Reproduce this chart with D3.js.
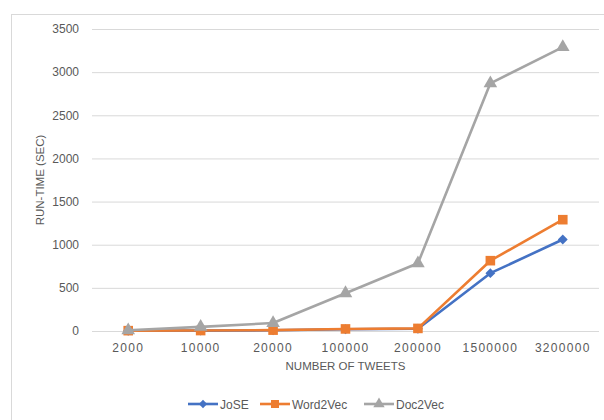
<!DOCTYPE html>
<html>
<head>
<meta charset="utf-8">
<script src="https://cdn.jsdelivr.net/npm/d3@7"></script>
<style>
  html, body { margin: 0; padding: 0; background: #fff; }
  svg { display: block; font-family: "Liberation Sans", Arial, sans-serif; }
</style>
</head>
<body>
<svg id="chart" width="604" height="420"></svg>
<script>
// Run-time by number of tweets
const categories = ["2000", "10000", "20000", "100000", "200000", "1500000", "3200000"];
const joseValues = [3, 4, 8, 20, 26, 670, 1060];
const word2vecValues = [4, 5, 10, 24, 30, 815, 1290];
const doc2vecValues = [8, 48, 92, 438, 785, 2870, 3290];
const yTicks = [0, 500, 1000, 1500, 2000, 2500, 3000, 3500];

const seriesNames = ["JoSE", "Word2Vec", "Doc2Vec"];
const seriesColors = ["#4472C4", "#ED7D31", "#A5A5A5"];
const seriesShapes = [d3.symbolDiamond2, d3.symbolSquare, d3.symbolTriangle];
const seriesSymbolSize = [62, 92, 80];

const series = [joseValues, word2vecValues, doc2vecValues].map((vals, i) => ({
  name: seriesNames[i],
  color: seriesColors[i],
  shape: seriesShapes[i],
  size: seriesSymbolSize[i],
  values: vals.map((v, j) => ({ cat: categories[j], v }))
}));

const svg = d3.select("#chart");
const textColor = "#595959";
const gridColor = "#d9d9d9";

// chart frame
svg.append("rect")
  .attr("x", 11.5).attr("y", 14.5)
  .attr("width", 700).attr("height", 500)
  .attr("fill", "#fff").attr("stroke", gridColor).attr("stroke-width", 1);

const plot = { left: 92, right: 599, top: 29, bottom: 331 };

const x = d3.scaleBand().domain(categories).range([plot.left, plot.right]).padding(0);
const y = d3.scaleLinear().domain([0, 3500]).range([plot.bottom, plot.top]);
const cx = c => x(c) + x.bandwidth() / 2;

// horizontal gridlines + y labels
const yAxis = d3.axisLeft(y).tickValues(yTicks).tickFormat(d3.format("d"))
  .tickSize(-(plot.right - plot.left)).tickPadding(13);
const gy = svg.append("g").attr("transform", `translate(${plot.left},0)`).call(yAxis);
gy.select(".domain").remove();
gy.selectAll(".tick line").attr("stroke", gridColor).attr("stroke-width", 1);
gy.selectAll(".tick text")
  .attr("fill", textColor).attr("font-size", 12)
  .attr("font-family", "'Liberation Sans', Arial, sans-serif");

// category labels
const xAxis = d3.axisBottom(x).tickSize(0).tickPadding(12);
const gx = svg.append("g").attr("transform", `translate(0,${plot.bottom})`).call(xAxis);
gx.select(".domain").remove();
gx.selectAll(".tick text")
  .attr("fill", textColor).attr("font-size", 12)
  .attr("letter-spacing", "1.3px")
  .attr("font-family", "'Liberation Sans', Arial, sans-serif");

// axis titles
svg.append("text")
  .attr("x", (plot.left + plot.right) / 2).attr("y", 370)
  .attr("text-anchor", "middle").attr("fill", textColor).attr("font-size", 11.5)
  .text("NUMBER OF TWEETS");

svg.append("text")
  .attr("transform", `translate(44,${(plot.top + plot.bottom) / 2}) rotate(-90)`)
  .attr("text-anchor", "middle").attr("fill", textColor).attr("font-size", 11.5)
  .text("RUN-TIME (SEC)");

// series lines and markers
const line = d3.line().x(d => cx(d.cat)).y(d => y(d.v));
series.forEach(s => {
  const g = svg.append("g");
  g.append("path").datum(s.values)
    .attr("d", line).attr("fill", "none")
    .attr("stroke", s.color).attr("stroke-width", 2.6)
    .attr("stroke-linejoin", "round");
  g.selectAll("path.mark").data(s.values).enter().append("path")
    .attr("class", "mark")
    .attr("d", d3.symbol().type(s.shape).size(s.size))
    .attr("transform", d => `translate(${cx(d.cat)},${y(d.v)})`)
    .attr("fill", s.color);
});

// legend
const legendY = 404;
const legendX = [188, 260, 364];
series.forEach((s, i) => {
  const g = svg.append("g").attr("transform", `translate(${legendX[i]},${legendY})`);
  g.append("line").attr("x1", 0).attr("x2", 30).attr("y1", 0).attr("y2", 0)
    .attr("stroke", s.color).attr("stroke-width", 2.6);
  g.append("path").attr("d", d3.symbol().type(s.shape).size(s.size * 0.7))
    .attr("transform", "translate(15,0)").attr("fill", s.color);
  g.append("text").attr("x", 32).attr("y", 4.5)
    .attr("fill", textColor).attr("font-size", 12).text(s.name);
});
</script>
</body>
</html>
